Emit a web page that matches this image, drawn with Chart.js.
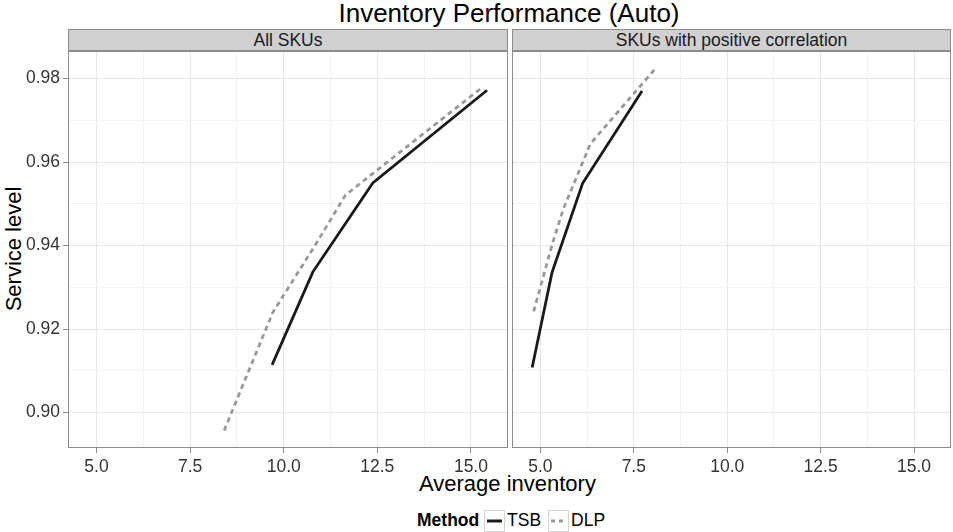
<!DOCTYPE html>
<html>
<head>
<meta charset="utf-8">
<script src="https://cdn.jsdelivr.net/npm/chart.js@4"></script>
<style>
  body { margin: 0; background: #fff; font-family: 'Liberation Sans', Arial, sans-serif; }
  #wrap { position: relative; width: 953px; height: 532px; overflow: hidden; }
  canvas { position: absolute; }
  .txt { position: absolute; white-space: nowrap; color: #000; }
  .strip { position: absolute; top: 29px; height: 22px; box-sizing: border-box; background: #d0d0d0;
           border: 1px solid #8c8c8c; font-size: 17.5px; line-height: 20px; text-align: center; color: #1a1a1a; }
  .key { display: inline-block; width: 19px; height: 20px; border: 1px solid #d4d4d4; vertical-align: middle; position: relative; }
</style>
</head>
<body>
<div id="wrap">
  <div class="txt" style="left:0;width:1018px;top:-2px;text-align:center;font-size:26px;">Inventory Performance (Auto)</div>
  <div class="strip" style="left:68px;width:440px;">All SKUs</div>
  <div class="strip" style="left:512px;width:439px;">SKUs with positive correlation</div>
  <div class="txt" style="left:14px;top:249px;font-size:22px;transform:translate(-50%,-50%) rotate(-90deg);">Service level</div>
  <div class="txt" style="left:419px;top:471px;font-size:22px;">Average inventory</div>
  <div class="txt" style="left:417px;top:509px;font-size:17.5px;line-height:22px;">
    <b>Method</b>
    <span class="key"><svg width="19" height="20"><line x1="2" y1="10" x2="17" y2="10" stroke="#1a1a1a" stroke-width="3"/></svg></span><span style="margin-left:2px">TSB</span>
    <span class="key" style="margin-left:2px"><svg width="19" height="20"><line x1="2" y1="10" x2="17" y2="10" stroke="#999" stroke-width="3" stroke-dasharray="4,4"/></svg></span><span style="margin-left:2px">DLP</span>
  </div>
  <canvas id="left" width="508" height="430" style="left:0;top:51px;"></canvas>
  <canvas id="right" width="451" height="430" style="left:500px;top:51px;"></canvas>
</div>
<script>
// panel: All SKUs
const tsbAllX = [9.69, 10.78, 12.38, 15.43];
const tsbAllY = [0.9114, 0.9337, 0.9550, 0.9772];
const dlpAllX = [8.41, 9.71, 10.87, 11.65, 15.29];
const dlpAllY = [0.8957, 0.9240, 0.9405, 0.9521, 0.9778];
// panel: SKUs with positive correlation
const tsbPosX = [4.78, 5.31, 6.13, 7.72];
const tsbPosY = [0.9108, 0.9335, 0.9549, 0.9770];
const dlpPosX = [4.82, 5.31, 5.62, 6.34, 8.08];
const dlpPosY = [0.9242, 0.9401, 0.9489, 0.9644, 0.9824];

const xTicks = [5, 6.25, 7.5, 8.75, 10, 11.25, 12.5, 13.75, 15];
const yTicks = [0.90, 0.91, 0.92, 0.93, 0.94, 0.95, 0.96, 0.97, 0.98];

const xMajor = v => Math.abs(v / 2.5 - Math.round(v / 2.5)) < 1e-6;
const yMajor = v => Math.round(v * 100) % 2 === 0;

function pts(xs, ys) { return xs.map((x, i) => ({ x: x, y: ys[i] })); }

const panelBorder = {
  id: 'panelBorder',
  afterDraw(chart) {
    const a = chart.chartArea, ctx = chart.ctx;
    ctx.save();
    ctx.strokeStyle = '#8c8c8c';
    ctx.lineWidth = 1;
    ctx.strokeRect(a.left + 0.5, a.top + 0.5, a.right - a.left - 1, a.bottom - a.top - 1);
    ctx.restore();
  }
};

function makeChart(id, tsb, dlp, showY) {
  const tickFont = { family: 'Liberation Sans', size: 17.5 };
  new Chart(document.getElementById(id), {
    type: 'scatter',
    data: {
      datasets: [
        { label: 'TSB', data: tsb, showLine: true, borderColor: '#1a1a1a', borderWidth: 2.8, pointRadius: 0 },
        { label: 'DLP', data: dlp, showLine: true, borderColor: '#999999', borderWidth: 2.8, borderDash: [5, 4], pointRadius: 0 }
      ]
    },
    options: {
      responsive: false,
      animation: false,
      layout: { padding: 0, autoPadding: false },
      plugins: { legend: { display: false }, tooltip: { enabled: false } },
      scales: {
        x: {
          type: 'linear', min: 4.24, max: 15.99,
          afterBuildTicks: s => { s.ticks = xTicks.map(v => ({ value: v })); },
          afterFit: s => { s.height = 33; s.paddingLeft = 0; s.paddingRight = 0; },
          border: { display: false },
          grid: {
            color: c => xMajor(c.tick.value) ? '#e6e6e6' : '#f4f4f4',
            tickColor: c => xMajor(c.tick.value) ? '#8c8c8c' : 'rgba(0,0,0,0)',
            tickLength: 5
          },
          ticks: {
            autoSkip: false, maxRotation: 0, padding: 4, color: '#333', font: tickFont,
            callback: v => xMajor(v) ? v.toFixed(1) : ''
          }
        },
        y: {
          type: 'linear', min: 0.8915, max: 0.9866,
          afterBuildTicks: s => { s.ticks = yTicks.map(v => ({ value: v })); },
          afterFit: s => { s.width = showY ? 68 : 12; s.paddingTop = 0; s.paddingBottom = 0; },
          border: { display: false },
          grid: {
            color: c => yMajor(c.tick.value) ? '#e6e6e6' : '#f4f4f4',
            tickColor: c => (showY && yMajor(c.tick.value)) ? '#8c8c8c' : 'rgba(0,0,0,0)',
            tickLength: 5
          },
          ticks: {
            display: showY, autoSkip: false, padding: 3, color: '#333', font: tickFont,
            callback: v => yMajor(v) ? v.toFixed(2) : ''
          }
        }
      }
    },
    plugins: [panelBorder]
  });
}

makeChart('left', pts(tsbAllX, tsbAllY), pts(dlpAllX, dlpAllY), true);
makeChart('right', pts(tsbPosX, tsbPosY), pts(dlpPosX, dlpPosY), false);
</script>
</body>
</html>
